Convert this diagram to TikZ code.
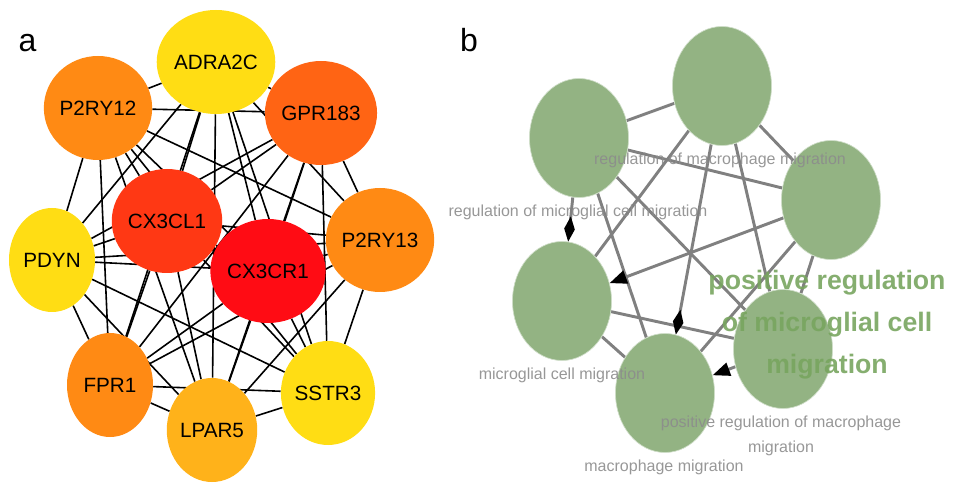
\documentclass[tikz,border=0pt]{standalone}
\usepackage{fontspec}
\setmainfont{Liberation Sans}
\usetikzlibrary{shapes.geometric,arrows.meta,backgrounds}

\definecolor{hubred}{RGB}{255,12,20}
\definecolor{hubscarlet}{RGB}{255,56,20}
\definecolor{hubdark}{RGB}{255,100,20}
\definecolor{huborange}{RGB}{255,138,20}
\definecolor{hubamber}{RGB}{255,178,26}
\definecolor{hubyellow}{RGB}{255,221,20}
\definecolor{termgreen}{RGB}{147,179,131}
\definecolor{linkgray}{RGB}{128,128,128}
\definecolor{labelgray}{RGB}{140,140,140}
\definecolor{biggreen}{RGB}{120,165,95}

\tikzset{
	gene/.style={ellipse, minimum width=64.5pt, minimum height=78pt, inner sep=0pt, font=\fontsize{15.5}{18}\selectfont},
	ppi/.style={line width=1.2pt, color=black},
	term/.style={ellipse, minimum width=74.25pt, minimum height=89.25pt, inner sep=0pt, fill=termgreen, draw=termgreen!45, line width=0.5pt},
	link/.style={line width=2.2pt, color=linkgray},
	termlabel/.style={text=labelgray, text opacity=0.9, inner sep=0pt, align=center, font=\fontsize{12}{18.75}\selectfont},
	panel/.style={anchor=base, inner sep=0pt, font=\fontsize{24}{28}\selectfont},
}

\begin{document}
\begin{tikzpicture}[x=0.75pt, y=-0.75pt]
		%%%%% START %%%%%
		\useasboundingbox (0, 0) rectangle (953, 491);
		
		\node[panel] (pa) at (27.5, 52) {a};
		\node[panel] (pb) at (469, 52) {b};
		
		%%%%% hub genes %%%%%
		\node[gene, fill=hubyellow] (adra) at (216, 62) {ADRA2C};
		\node[gene, fill=huborange] (prya) at (98, 108) {P2RY12};
		\node[gene, fill=hubdark] (gpr) at (321, 113) {GPR183};
		\node[gene, fill=hubscarlet] (cxcl) at (167, 221) {CX3CL1};
		\node[gene, fill=hubred] (cxcr) at (268, 271) {CX3CR1};
		\node[gene, fill=huborange] (pryb) at (380, 240) {P2RY13};
		\node[gene, fill=hubyellow] (pdyn) at (52, 260) {PDYN};
		\node[gene, fill=huborange] (fpr) at (110, 385) {FPR1};
		\node[gene, fill=hubamber] (lpar) at (212, 430) {LPAR5};
		\node[gene, fill=hubyellow] (sstr) at (328, 393) {SSTR3};
		
		\begin{scope}[on background layer]
			\foreach \a [count=\i] in {adra,prya,gpr,cxcl,cxcr,pryb,pdyn,fpr,lpar,sstr}
				\foreach \b [count=\j] in {adra,prya,gpr,cxcl,cxcr,pryb,pdyn,fpr,lpar,sstr}
					{\ifnum\j>\i \draw[ppi] (\a) -- (\b); \fi}
		\end{scope}
		
		%%%%% GO terms %%%%%
		\node[term] (rmac) at (722, 86) {};
		\node[term] (rmic) at (579, 138) {};
		\node[term] (pmic) at (831, 200) {};
		\node[term] (mic) at (562, 301) {};
		\node[term] (mac) at (665, 393) {};
		\node[term] (pmac) at (783, 349) {};
		
		\begin{scope}[on background layer]
			\draw[link] (rmic) -- (rmac);
			\draw[link] (rmac) -- (pmic);
			\draw[link] (rmic) -- (pmic);
			\draw[link] (rmac) -- (mic);
			\draw[link] (rmic) -- (mac);
			\draw[link] (rmic) -- (pmac);
			\draw[link] (rmac) -- (pmac);
			\draw[link] (pmic) -- (mac);
			\draw[link] (pmic) -- (pmac);
			\draw[link] (mic) -- (pmac);
			\draw[link] (mic) -- (mac);
			\draw[link, -{Diamond[length=19pt, width=8pt, color=black]}] (rmic) -- (mic);
			\draw[link, -{Diamond[length=19pt, width=8pt, color=black]}] (rmac) -- (mac);
			\draw[link, -{Triangle[length=13pt, width=10pt, color=black]}] (pmic) -- (mic);
			\draw[link, -{Triangle[length=13pt, width=10pt, color=black]}] (pmac) -- (mac);
		\end{scope}
		
		\node[termlabel] (lrmac) at (720, 160) {regulation of macrophage migration};
		\node[termlabel] (lrmic) at (578, 212) {regulation of microglial cell migration};
		\node[termlabel] (lmic) at (562, 375) {microglial cell migration};
		\node[termlabel] (lmac) at (664, 467) {macrophage migration};
		\node[termlabel] (lpmac) at (781, 435.5) {positive regulation of macrophage\\migration};
		\node[termlabel, text=biggreen, font=\bfseries\fontsize{20}{31.5}\selectfont] (lpmic) at (827, 325) {positive regulation\\of microglial cell\\migration};
		
		%%%%% END %%%%%
	\end{tikzpicture}
\end{document}
